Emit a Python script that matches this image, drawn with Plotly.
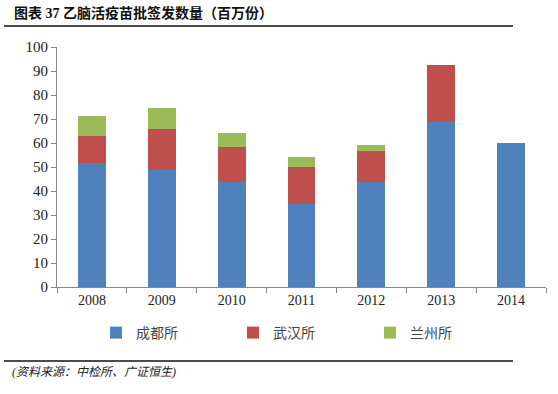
import plotly.graph_objects as go

years = ["2008", "2009", "2010", "2011", "2012", "2013", "2014"]
chengdu = [51.7, 48.8, 43.9, 34.5, 43.7, 68.6, 60.2]
wuhan = [11.3, 17.1, 14.6, 15.3, 12.8, 24.0, 0]
lanzhou = [8.3, 8.8, 5.7, 4.4, 2.6, 0, 0]
series_names = ["成都所", "武汉所", "兰州所"]
colors = ["#4F81BD", "#C0504D", "#9BBB59"]

W, H = 558, 394
L, R, T, B = 57, 12, 47, 107
pw = W - L - R
ph = H - T - B

def px(x):
    return (x - L) / pw

def py(y):
    return (H - B - y) / ph

fig = go.Figure()
for name, vals, c in zip(series_names, [chengdu, wuhan, lanzhou], colors):
    fig.add_trace(go.Bar(x=years, y=vals, name=name, marker=dict(color=c, line=dict(width=0))))

cjk = "Liberation Serif, Noto Sans CJK SC"
fig.update_layout(
    width=W, height=H,
    barmode="stack", bargap=0.6,
    margin=dict(l=L, r=R, t=T, b=B, autoexpand=False),
    plot_bgcolor="white", paper_bgcolor="white",
    showlegend=True,
    legend=dict(orientation="h", x=px(96), y=py(333), yanchor="middle", xanchor="left",
                entrywidth=92, font=dict(family=cjk, size=14, color="#444"),
                itemwidth=30, traceorder="normal", bgcolor="rgba(0,0,0,0)"),
    xaxis=dict(type="category", showline=True, linecolor="#888", linewidth=1,
               ticks="outside", ticklen=5, tickcolor="#888", tickson="boundaries",
               tickfont=dict(family="Liberation Serif", size=14, color="#222"),
               showgrid=False),
    yaxis=dict(range=[0, 100], dtick=10, showline=True, linecolor="#888", linewidth=1,
               ticks="outside", ticklen=5, tickcolor="#888", showgrid=False, zeroline=False,
               tickfont=dict(family="Liberation Serif", size=15, color="#222")),
    shapes=[
        dict(type="line", xref="paper", yref="paper", x0=px(4), x1=px(513), y0=py(26), y1=py(26),
             line=dict(color="#111", width=1.5)),
        dict(type="line", xref="paper", yref="paper", x0=px(4), x1=px(513), y0=py(361), y1=py(361),
             line=dict(color="#111", width=1.5)),
    ],
    annotations=[
        dict(text="<b>图表 37 乙脑活疫苗批签发数量（百万份）</b>", xref="paper", yref="paper",
             x=px(12), y=py(13), xanchor="left", yanchor="middle", showarrow=False,
             font=dict(family=cjk, size=14, color="#111")),
        dict(text="<i>(资料来源：中检所、广证恒生)</i>", xref="paper", yref="paper",
             x=px(10), y=py(372), xanchor="left", yanchor="middle", showarrow=False,
             font=dict(family=cjk, size=12, color="#222")),
    ],
)
fig.write_html("out.html", config={"displayModeBar": False},
               post_script="document.body.style.margin='0';")
